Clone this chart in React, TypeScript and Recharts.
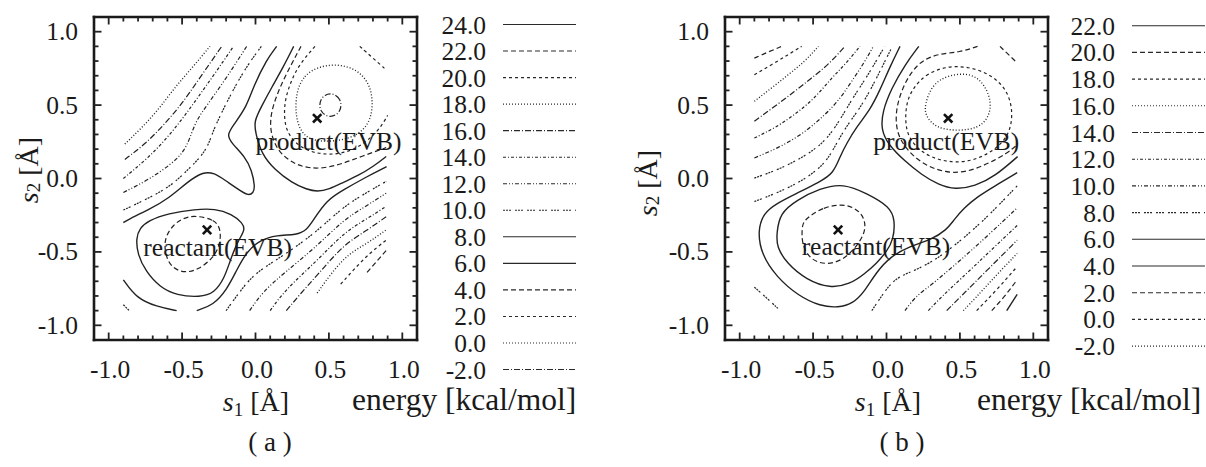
import React from 'react';
import { ComposedChart, Line, Scatter, XAxis, YAxis } from 'recharts';

type P = [number, number];

// ---------- axes / legend data ----------
const DOMAIN: [number, number] = [-1.1, 1.1];
const TICKS = [-1.0, -0.9, -0.8, -0.7, -0.6, -0.5, -0.4, -0.3, -0.2, -0.1, 0.0, 0.1, 0.2, 0.3, 0.4, 0.5, 0.6, 0.7, 0.8, 0.9, 1.0];

const LEVELS_A = [24, 22, 20, 18, 16, 14, 12, 10, 8, 6, 4, 2, 0, -2];
const STYLE_A = [0, 1, 2, 3, 4, 5, 6, 7, 0, 0, 1, 2, 3, 4];
const LEVELS_B = [22, 20, 18, 16, 14, 12, 10, 8, 6, 4, 2, 0, -2];
const STYLE_B = [0, 1, 2, 3, 4, 5, 6, 7, 0, 0, 1, 2, 3];

const DASH: (string | undefined)[] = [undefined, '5 3', '3 3', '1 2', '6 2 1 2', '3 2 1 2', '4 2 1 2 1 2', '2 1 2 1 2 4'];

// ---------- panel (a) contours ----------
const A_UL18: P[] = [[-0.89, 0.235], [-0.78, 0.34], [-0.66, 0.47], [-0.55, 0.62], [-0.435, 0.75], [-0.31, 0.9]];
const A_UL16: P[] = [[-0.89, 0.13], [-0.75, 0.235], [-0.62, 0.37], [-0.5, 0.51], [-0.39, 0.67], [-0.23, 0.9]];
const A_UL14: P[] = [[-0.9, 0.0], [-0.73, 0.14], [-0.59, 0.29], [-0.48, 0.43], [-0.38, 0.57], [-0.28, 0.71], [-0.15, 0.9]];
const A_UL12: P[] = [[-0.9, -0.095], [-0.73, -0.01], [-0.57, 0.1], [-0.48, 0.19], [-0.435, 0.31], [-0.4, 0.4], [-0.33, 0.5], [-0.23, 0.64], [-0.14, 0.775], [-0.06, 0.9]];
const A_UL10: P[] = [[-0.9, -0.215], [-0.74, -0.14], [-0.58, -0.055], [-0.46, 0.06], [-0.37, 0.15], [-0.32, 0.23], [-0.29, 0.32], [-0.24, 0.43], [-0.16, 0.59], [-0.06, 0.765], [0.04, 0.9]];
const A_8A: P[] = [[-0.9, -0.3], [-0.87, -0.28], [-0.73, -0.215], [-0.59, -0.135], [-0.46, -0.02], [-0.355, 0.047], [-0.28, 0.037], [-0.21, -0.01], [-0.094, -0.09], [-0.05, -0.115], [-0.015, -0.1], [-0.003, -0.056], [-0.026, 0.058], [-0.072, 0.149], [-0.162, 0.24], [-0.196, 0.296], [-0.15, 0.364], [-0.06, 0.49], [-0.015, 0.625], [0.076, 0.81], [0.144, 0.9]];
const A_8B: P[] = [[-0.9, -0.69], [-0.81, -0.816], [-0.673, -0.873], [-0.537, -0.9]];
const A_8C: P[] = [[-0.4, -0.9], [-0.287, -0.862], [-0.196, -0.759], [-0.128, -0.623], [-0.06, -0.498], [0.031, -0.419], [0.144, -0.385], [0.28, -0.385], [0.349, -0.351], [0.394, -0.283], [0.485, -0.147], [0.598, -0.078], [0.757, 0.012], [0.893, 0.081]];
const A_6R: P[] = [[-0.814, -0.405], [-0.787, -0.337], [-0.73, -0.287], [-0.594, -0.237], [-0.412, -0.21], [-0.276, -0.205], [-0.162, -0.242], [-0.087, -0.303], [-0.072, -0.349], [-0.106, -0.405], [-0.14, -0.474], [-0.174, -0.564], [-0.212, -0.678], [-0.28, -0.78], [-0.378, -0.809], [-0.537, -0.796], [-0.651, -0.741], [-0.748, -0.632], [-0.803, -0.519]];
const A_4R: P[] = [[-0.412, -0.251], [-0.276, -0.28], [-0.235, -0.349], [-0.242, -0.451], [-0.287, -0.541], [-0.389, -0.621], [-0.48, -0.644], [-0.571, -0.61], [-0.616, -0.519], [-0.621, -0.405], [-0.56, -0.314], [-0.492, -0.269]];
const A_6P: P[] = [[0.26, 0.9], [0.19, 0.76], [0.11, 0.62], [0.04, 0.49], [-0.01, 0.39], [0.0, 0.31], [0.04, 0.17], [0.13, 0.06], [0.25, -0.03], [0.35, -0.075], [0.42, -0.09], [0.5, -0.075], [0.6, -0.025], [0.7, 0.02], [0.8, 0.08], [0.89, 0.15]];
const A_4P: P[] = [[0.31, 0.9], [0.24, 0.77], [0.17, 0.63], [0.12, 0.5], [0.1, 0.4], [0.105, 0.3], [0.155, 0.18], [0.26, 0.1], [0.36, 0.07], [0.47, 0.07], [0.59, 0.1], [0.72, 0.15], [0.89, 0.21]];
const A_2P: P[] = [[0.405, 0.9], [0.3, 0.78], [0.24, 0.66], [0.2, 0.535], [0.195, 0.42], [0.21, 0.33], [0.26, 0.25], [0.35, 0.19], [0.45, 0.165], [0.575, 0.165], [0.7, 0.21], [0.8, 0.29], [0.86, 0.36], [0.9, 0.43]];
const A_2C: P[] = [[0.71, 0.9], [0.8, 0.82], [0.89, 0.74]];
const A_0P: P[] = [[0.28, 0.6], [0.33, 0.7], [0.42, 0.76], [0.55, 0.78], [0.68, 0.75], [0.77, 0.66], [0.8, 0.54], [0.79, 0.42], [0.74, 0.33], [0.64, 0.27], [0.5, 0.25], [0.37, 0.26], [0.3, 0.33], [0.27, 0.45]];
const A_M2P: P[] = [[0.585, 0.5], [0.575, 0.54], [0.548, 0.569], [0.51, 0.58], [0.472, 0.569], [0.445, 0.54], [0.435, 0.5], [0.445, 0.46], [0.472, 0.431], [0.51, 0.42], [0.548, 0.431], [0.575, 0.46]];
const A_LR10: P[] = [[-0.2, -0.9], [-0.1, -0.76], [0.0, -0.64], [0.2, -0.52], [0.42, -0.36], [0.6, -0.19], [0.75, -0.1], [0.89, -0.02]];
const A_LR12: P[] = [[-0.04, -0.9], [0.05, -0.77], [0.2, -0.64], [0.42, -0.46], [0.6, -0.28], [0.75, -0.19], [0.89, -0.1]];
const A_LR14: P[] = [[0.1, -0.9], [0.2, -0.76], [0.42, -0.56], [0.6, -0.37], [0.75, -0.28], [0.89, -0.19]];
const A_LR16: P[] = [[0.21, -0.9], [0.31, -0.78], [0.42, -0.66], [0.6, -0.45], [0.75, -0.36], [0.89, -0.26]];
const A_LR18: P[] = [[0.42, -0.78], [0.6, -0.53], [0.75, -0.45], [0.89, -0.35]];
const A_LR20: P[] = [[0.58, -0.72], [0.75, -0.53], [0.89, -0.42]];
const A_LR22: P[] = [[0.76, -0.64], [0.89, -0.49]];
const A_LL10: P[] = [[-0.9, -0.86], [-0.86, -0.9]];

// ---------- panel (b) contours ----------
const B_UL20: P[] = [[-0.9, 0.82], [-0.805, 0.862], [-0.714, 0.9]];
const B_UL18: P[] = [[-0.9, 0.707], [-0.782, 0.775], [-0.669, 0.844], [-0.578, 0.9]];
const B_UL16: P[] = [[-0.9, 0.526], [-0.782, 0.617], [-0.669, 0.707], [-0.555, 0.798], [-0.464, 0.9]];
const B_UL14: P[] = [[-0.9, 0.39], [-0.76, 0.492], [-0.624, 0.594], [-0.51, 0.685], [-0.396, 0.775], [-0.283, 0.9]];
const B_UL12: P[] = [[-0.9, 0.276], [-0.76, 0.344], [-0.624, 0.435], [-0.487, 0.548], [-0.374, 0.685], [-0.283, 0.775], [-0.181, 0.9]];
const B_UL10: P[] = [[-0.9, 0.14], [-0.737, 0.208], [-0.578, 0.299], [-0.442, 0.412], [-0.328, 0.526], [-0.237, 0.662], [-0.146, 0.798], [-0.09, 0.9]];
const B_UL8: P[] = [[-0.9, 0.003], [-0.737, 0.06], [-0.578, 0.14], [-0.442, 0.23], [-0.351, 0.344], [-0.283, 0.458], [-0.215, 0.571], [-0.124, 0.707], [-0.033, 0.866], [-0.01, 0.9]];
const B_UL7: P[] = [[-0.9, -0.157], [-0.75, -0.1], [-0.6, -0.03], [-0.48, 0.05], [-0.4, 0.13], [-0.34, 0.24], [-0.27, 0.36], [-0.18, 0.48], [-0.1, 0.62], [-0.03, 0.76], [0.04, 0.9]];
const B_6: P[] = [[0.092, 0.9], [0.024, 0.762], [-0.044, 0.603], [-0.112, 0.467], [-0.203, 0.353], [-0.271, 0.24], [-0.317, 0.149], [-0.362, 0.035], [-0.453, -0.022], [-0.612, -0.101], [-0.748, -0.169], [-0.839, -0.237], [-0.878, -0.36], [-0.85, -0.52], [-0.75, -0.67], [-0.6, -0.8], [-0.45, -0.87], [-0.33, -0.88], [-0.226, -0.85], [-0.15, -0.77], [-0.07, -0.64], [0.024, -0.533], [0.16, -0.46], [0.3, -0.42], [0.41, -0.35], [0.46, -0.28], [0.53, -0.2], [0.61, -0.13], [0.74, -0.05], [0.89, 0.04]];
const B_4R: P[] = [[-0.748, -0.374], [-0.726, -0.237], [-0.612, -0.147], [-0.453, -0.067], [-0.294, -0.033], [-0.135, -0.101], [0.024, -0.192], [0.058, -0.283], [0.047, -0.419], [0.0, -0.5], [-0.07, -0.58], [-0.15, -0.65], [-0.25, -0.72], [-0.385, -0.748], [-0.544, -0.691], [-0.68, -0.578], [-0.748, -0.464]];
const B_2R: P[] = [[-0.567, -0.283], [-0.43, -0.192], [-0.271, -0.169], [-0.158, -0.237], [-0.135, -0.351], [-0.203, -0.464], [-0.294, -0.555], [-0.408, -0.589], [-0.521, -0.555], [-0.578, -0.442], [-0.575, -0.34]];
const B_4P: P[] = [[0.22, 0.9], [0.126, 0.775], [0.035, 0.616], [-0.028, 0.457], [-0.037, 0.333], [0.012, 0.23], [0.126, 0.117], [0.24, 0.025], [0.353, -0.042], [0.467, -0.076], [0.603, -0.053], [0.739, 0.015], [0.893, 0.149]];
const B_2P: P[] = [[0.62, 0.9], [0.5, 0.86], [0.36, 0.85], [0.25, 0.81], [0.17, 0.73], [0.1, 0.6], [0.06, 0.45], [0.07, 0.3], [0.15, 0.18], [0.26, 0.09], [0.4, 0.04], [0.54, 0.04], [0.69, 0.1], [0.82, 0.17], [0.89, 0.23]];
const B_0P: P[] = [[0.183, 0.617], [0.262, 0.707], [0.398, 0.764], [0.557, 0.764], [0.717, 0.707], [0.83, 0.594], [0.864, 0.435], [0.83, 0.276], [0.694, 0.162], [0.535, 0.106], [0.376, 0.117], [0.24, 0.174], [0.149, 0.276], [0.126, 0.39], [0.137, 0.526]];
const B_M2P: P[] = [[0.262, 0.503], [0.308, 0.639], [0.421, 0.707], [0.58, 0.719], [0.671, 0.639], [0.717, 0.514], [0.694, 0.412], [0.626, 0.344], [0.489, 0.322], [0.33, 0.344], [0.262, 0.435]];
const B_2C: P[] = [[0.773, 0.9], [0.83, 0.845], [0.887, 0.79]];
const B_LL8: P[] = [[-0.9, -0.74], [-0.82, -0.81], [-0.74, -0.885]];
const B_LR8: P[] = [[-0.1, -0.9], [-0.02, -0.78], [0.05, -0.69], [0.14, -0.645], [0.3, -0.58], [0.5, -0.43], [0.7, -0.25], [0.89, -0.05]];
const B_LR10: P[] = [[0.126, -0.9], [0.2, -0.8], [0.3, -0.73], [0.5, -0.56], [0.7, -0.38], [0.89, -0.2]];
const B_LR12: P[] = [[0.285, -0.9], [0.38, -0.8], [0.5, -0.69], [0.7, -0.5], [0.89, -0.32]];
const B_LR14: P[] = [[0.41, -0.9], [0.5, -0.81], [0.7, -0.61], [0.89, -0.42]];
const B_LR16: P[] = [[0.523, -0.9], [0.61, -0.81], [0.7, -0.71], [0.89, -0.51]];
const B_LR18: P[] = [[0.614, -0.9], [0.75, -0.76], [0.89, -0.6]];
const B_LR20: P[] = [[0.717, -0.9], [0.8, -0.81], [0.89, -0.69]];
const B_LR22: P[] = [[0.819, -0.9], [0.89, -0.79]];

// ---------- annotations ----------
const MARKS = [{ x: 0.42, y: 0.41 }, { x: -0.33, y: -0.35 }];
const LABELS_A = [{ x: 0.0, y: 0.196, t: 'product(EVB)' }, { x: -0.764, y: -0.53, t: 'reactant(EVB)' }];
const LABELS_B = [{ x: -0.09, y: 0.196, t: 'product(EVB)' }, { x: -0.578, y: -0.519, t: 'reactant(EVB)' }];
const FRAME_PTS = [{ x: -1.1, y: -1.1 }, { x: 1.1, y: 1.1 }];

type C = { lv: number; pts: P[]; closed?: boolean };
const CONTOURS_A: C[] = [
  { lv: 18, pts: A_UL18 }, { lv: 16, pts: A_UL16 }, { lv: 14, pts: A_UL14 }, { lv: 12, pts: A_UL12 }, { lv: 10, pts: A_UL10 },
  { lv: 8, pts: A_8A }, { lv: 8, pts: A_8B }, { lv: 8, pts: A_8C },
  { lv: 6, pts: A_6R, closed: true }, { lv: 4, pts: A_4R, closed: true },
  { lv: 6, pts: A_6P }, { lv: 4, pts: A_4P }, { lv: 2, pts: A_2P }, { lv: 2, pts: A_2C },
  { lv: 0, pts: A_0P, closed: true }, { lv: -2, pts: A_M2P, closed: true },
  { lv: 10, pts: A_LR10 }, { lv: 12, pts: A_LR12 }, { lv: 14, pts: A_LR14 }, { lv: 16, pts: A_LR16 },
  { lv: 18, pts: A_LR18 }, { lv: 20, pts: A_LR20 }, { lv: 22, pts: A_LR22 }, { lv: 10, pts: A_LL10 },
];
const CONTOURS_B: C[] = [
  { lv: 20, pts: B_UL20 }, { lv: 18, pts: B_UL18 }, { lv: 16, pts: B_UL16 }, { lv: 14, pts: B_UL14 },
  { lv: 12, pts: B_UL12 }, { lv: 10, pts: B_UL10 }, { lv: 8, pts: B_UL8 }, { lv: 8, pts: B_UL7 },
  { lv: 6, pts: B_6 }, { lv: 4, pts: B_4R, closed: true }, { lv: 2, pts: B_2R, closed: true },
  { lv: 4, pts: B_4P }, { lv: 2, pts: B_2P }, { lv: 0, pts: B_0P, closed: true }, { lv: -2, pts: B_M2P, closed: true },
  { lv: 2, pts: B_2C }, { lv: 8, pts: B_LL8 },
  { lv: 8, pts: B_LR8 }, { lv: 10, pts: B_LR10 }, { lv: 12, pts: B_LR12 }, { lv: 14, pts: B_LR14 },
  { lv: 16, pts: B_LR16 }, { lv: 18, pts: B_LR18 }, { lv: 20, pts: B_LR20 }, { lv: 22, pts: B_LR22 },
];

// ---------- style ----------
const SERIF = "'Liberation Serif','Times New Roman','DejaVu Serif',serif";
const TXT = '#1a1a1a';
const INK = '#222';
const CW = 430;
const CH = 467;
const PL = 94, PT = 17, PR = 417, PB = 340;

const isMajor = (v: number) => Math.abs(v * 2 - Math.round(v * 2)) < 1e-6;
const fmt = (v: number) => (Math.abs(v) < 1e-9 ? '0.0' : v.toFixed(1));

const BottomTick = (p: any) => {
  const { x, y, payload } = p;
  const v = payload.value;
  const m = isMajor(v);
  return (
    <g>
      <line x1={x} x2={x} y1={y} y2={y - (m ? 7.5 : 4.5)} stroke={INK} strokeWidth={1.8} />
      {m && (
        <text x={x + 1.5} y={y + 37.5} textAnchor="middle" fontSize={25.5} fontFamily={SERIF} fill={TXT}>{fmt(v)}</text>
      )}
    </g>
  );
};
const TopTick = (p: any) => {
  const { x, y, payload } = p;
  const m = isMajor(payload.value);
  return <line x1={x} x2={x} y1={y} y2={y + (m ? 7.5 : 4.5)} stroke={INK} strokeWidth={1.8} />;
};
const LeftTick = (p: any) => {
  const { x, y, payload } = p;
  const v = payload.value;
  const m = isMajor(v);
  return (
    <g>
      <line x1={x} x2={x + (m ? 7.5 : 4.5)} y1={y} y2={y} stroke={INK} strokeWidth={1.8} />
      {m && (
        <text x={x - 16} y={y + 8.5} textAnchor="end" fontSize={25.5} fontFamily={SERIF} fill={TXT}>{fmt(v)}</text>
      )}
    </g>
  );
};
const RightTick = (p: any) => {
  const { x, y, payload } = p;
  const m = isMajor(payload.value);
  return <line x1={x} x2={x - (m ? 7.5 : 4.5)} y1={y} y2={y} stroke={INK} strokeWidth={1.8} />;
};

const CrossShape = (p: any) => {
  const s = 4.2;
  return (
    <g stroke="#111" strokeWidth={2.6}>
      <line x1={p.cx - s} y1={p.cy - s} x2={p.cx + s} y2={p.cy + s} />
      <line x1={p.cx - s} y1={p.cy + s} x2={p.cx + s} y2={p.cy - s} />
    </g>
  );
};
const TextShape = (p: any) => (
  <text x={p.cx} y={p.cy} fontSize={25.5} fontFamily={SERIF} fill={TXT}>{p.payload.t}</text>
);

const FRAME_LINE = { stroke: '#1a1a1a', strokeWidth: 2.6, strokeLinecap: 'square' as const };

function Panel({ contours, levels, styles, labels }: { contours: C[]; levels: number[]; styles: number[]; labels: any[] }) {
  const styleOf = (lv: number) => styles[levels.indexOf(lv)] ?? 0;
  return (
    <ComposedChart width={CW} height={CH} margin={{ top: 0, left: 0, right: 0, bottom: 0 }}>
      <XAxis xAxisId="b" type="number" dataKey="x" domain={DOMAIN} ticks={TICKS} interval={0} allowDataOverflow
        height={CH - PB} tickSize={0} tickMargin={0} tickLine={false} axisLine={FRAME_LINE} tick={BottomTick} />
      <XAxis xAxisId="t" orientation="top" type="number" dataKey="x" domain={DOMAIN} ticks={TICKS} interval={0} allowDataOverflow
        height={PT} tickSize={0} tickMargin={0} tickLine={false} axisLine={FRAME_LINE} tick={TopTick} />
      <YAxis yAxisId="l" type="number" dataKey="y" domain={DOMAIN} ticks={TICKS} interval={0} allowDataOverflow
        width={PL} tickSize={0} tickMargin={0} tickLine={false} axisLine={FRAME_LINE} tick={LeftTick} />
      <YAxis yAxisId="r" orientation="right" type="number" dataKey="y" domain={DOMAIN} ticks={TICKS} interval={0} allowDataOverflow
        width={CW - PR} tickSize={0} tickMargin={0} tickLine={false} axisLine={FRAME_LINE} tick={RightTick} />
      <Line xAxisId="t" yAxisId="r" data={FRAME_PTS} dataKey="y" stroke="none" dot={false} activeDot={false} isAnimationActive={false} />
      {contours.map((c, i) => {
        const st = styleOf(c.lv);
        return (
          <Line
            key={i}
            name={`c${i}`}
            xAxisId="b"
            yAxisId="l"
            data={c.pts.map(([x, y]) => ({ x, y }))}
            dataKey="y"
            type={c.closed ? 'basisClosed' : 'basis'}
            stroke={INK}
            strokeWidth={st === 0 ? 1.4 : st === 3 ? 1.35 : 1.2}
            strokeDasharray={DASH[st]}
            dot={false}
            activeDot={false}
            isAnimationActive={false}
          />
        );
      })}
      <Scatter xAxisId="b" yAxisId="l" data={MARKS} shape={CrossShape} isAnimationActive={false} />
      <Scatter xAxisId="b" yAxisId="l" data={labels} shape={TextShape} isAnimationActive={false} />
    </ComposedChart>
  );
}

function LegendBlock({ levels, styles, xText, x1, x2, y0, dy }: { levels: number[]; styles: number[]; xText: number; x1: number; x2: number; y0: number; dy: number }) {
  return (
    <g>
      {levels.map((lv, i) => {
        const y = y0 + i * dy;
        return (
          <g key={i}>
            <text x={xText} y={y + 8.5} textAnchor="end" fontSize={25.5} fontFamily={SERIF} fill={TXT}>{lv.toFixed(1)}</text>
            <line x1={x1} x2={x2} y1={y - 0.5} y2={y - 0.5} stroke="#2a2a2a" strokeWidth={1.1} strokeDasharray={DASH[styles[i]]} />
          </g>
        );
      })}
    </g>
  );
}

function Titles({ ylx, yly, xlx, ex, cap, capx }: { ylx: number; yly: number; xlx: number; ex: number; cap: string; capx: number }) {
  return (
    <g>
      <text transform={`rotate(-90 ${ylx} ${yly})`} x={ylx} y={yly} textAnchor="middle" dominantBaseline="central" fontSize={28} fontFamily={SERIF} fill={TXT}>
        <tspan fontStyle="italic">s</tspan>
        <tspan fontSize={19} dy={5}>2</tspan>
        <tspan dy={-5}> [Å]</tspan>
      </text>
      <text x={xlx} y={411} textAnchor="middle" fontSize={28} fontFamily={SERIF} fill={TXT}>
        <tspan fontStyle="italic">s</tspan>
        <tspan fontSize={19} dy={5}>1</tspan>
        <tspan dy={-5}> [Å]</tspan>
      </text>
      <text x={ex} y={410} fontSize={31.5} fontFamily={SERIF} fill={TXT}>energy [kcal/mol]</text>
      <text x={capx} y={451} textAnchor="middle" fontSize={27} fontFamily={SERIF} fill={TXT}>{cap}</text>
    </g>
  );
}

export default function App() {
  return (
    <div style={{ position: 'fixed', left: 0, top: 0, width: 1206, height: 467, background: '#fff', overflow: 'hidden' }}>
      <div style={{ position: 'absolute', left: 0, top: 0 }}>
        <Panel contours={CONTOURS_A} levels={LEVELS_A} styles={STYLE_A} labels={LABELS_A} />
      </div>
      <div style={{ position: 'absolute', left: 631, top: 0 }}>
        <Panel contours={CONTOURS_B} levels={LEVELS_B} styles={STYLE_B} labels={LABELS_B} />
      </div>
      <svg width={1206} height={467} style={{ position: 'absolute', left: 0, top: 0, pointerEvents: 'none' }}>
        <LegendBlock levels={LEVELS_A} styles={STYLE_A} xText={486} x1={503} x2={576} y0={25} dy={26.54} />
        <LegendBlock levels={LEVELS_B} styles={STYLE_B} xText={1115} x1={1132} x2={1205} y0={26.2} dy={26.7} />
        <Titles ylx={28} yly={170} xlx={256} ex={352} cap="( a )" capx={270} />
        <Titles ylx={647} yly={183} xlx={888} ex={977} cap="( b )" capx={902} />
      </svg>
    </div>
  );
}
